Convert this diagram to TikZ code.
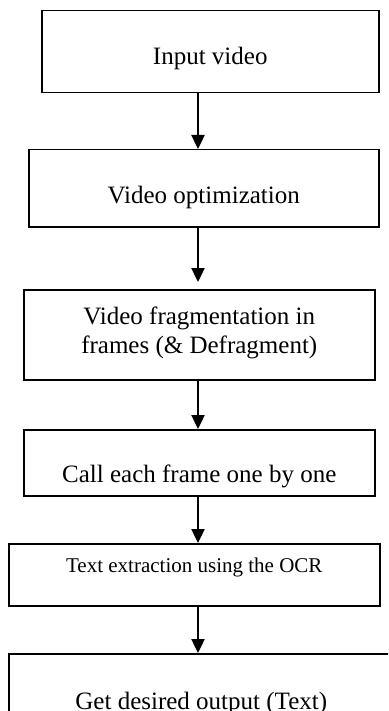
\documentclass[tikz,border=0pt]{standalone}
\usepackage{fontspec}
\setmainfont{Liberation Serif}
\usetikzlibrary{arrows.meta, positioning}

\begin{document}
\begin{tikzpicture}[
    x=1pt, y=-1pt,
    block/.style={rectangle, draw=black, line width=1.5pt, inner sep=0pt, align=center, anchor=north west, font=\fontsize{25}{29}\selectfont},
    arrow/.style={line width=2.4pt, -{Triangle[length=14pt, width=13pt]}}
]
    \useasboundingbox (0,0) rectangle (388,711);
    \clip (0,0) rectangle (388,711);

    \coordinate (spine) at (198,0);

    \node[block, minimum width=337pt, text height=54pt, text depth=28pt] (input) at (41,10) {Input video};
    \node[block, minimum width=350pt, text height=54pt, text depth=23pt] (optim) at (28,149) {Video optimization};
    \node[block, minimum width=351pt, text height=64pt, text depth=26pt] (frag) at (23,289) {Video fragmentation in\\frames (\& Defragment)};
    \node[block, minimum width=351pt, text height=53pt, text depth=13pt] (call) at (23,429) {Call each frame one by one};
    \node[block, minimum width=371pt, text height=29pt, text depth=33pt, font=\fontsize{21}{25}\selectfont] (ocr) at (8,543) {Text extraction using the OCR};
    \node[block, minimum width=385pt, text height=56pt, text depth=30pt] (output) at (8,653) {Get desired output (Text)};

    \draw[arrow] (spine |- input.south) -- (spine |- optim.north);
    \draw[arrow, shorten >=7pt] (spine |- optim.south) -- (spine |- frag.north);
    \draw[arrow] (spine |- frag.south) -- (spine |- call.north);
    \draw[arrow] (spine |- call.south) -- (spine |- ocr.north);
    \draw[arrow] (spine |- ocr.south) -- (spine |- output.north);

\end{tikzpicture}
\end{document}
